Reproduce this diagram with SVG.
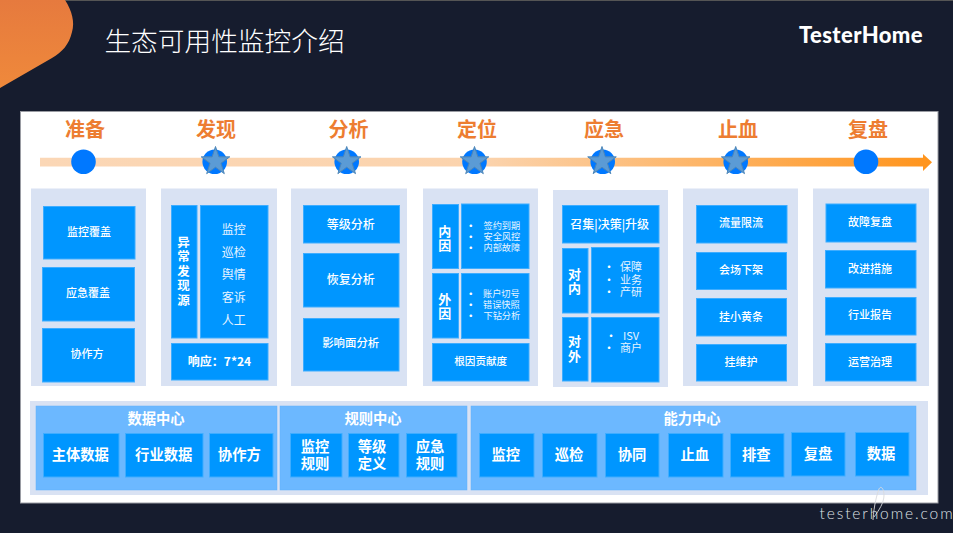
<svg xmlns="http://www.w3.org/2000/svg" width="953" height="533" viewBox="0 0 953 533">
<style>
text{font-family:"Noto Sans CJK SC","Liberation Sans",sans-serif;fill:#fff;text-anchor:middle;dominant-baseline:central}
.b{fill:#0096ff;stroke:#3fadff;stroke-width:1}
.bg{fill:#d9e2f3}
.c{fill:#6cb8ff;stroke:#5fb0fb;stroke-width:.5}
.h{fill:#ed7d31;font-size:20px;font-weight:700}
.t11{font-size:11px;font-weight:500}
.t12{font-size:12px;font-weight:500}
.r12{font-size:12px;fill:#e8f4ff}
.v{font-size:13px;font-weight:700}
.vs{font-size:12.500px;font-weight:700}
.s{font-size:9.200px;text-anchor:start;fill:#e8f4ff}
.d{font-size:10px;font-weight:700}
.m{font-size:11px;fill:#e8f4ff}
.k{font-size:14.300px;font-weight:700}
.dot{fill:#0078ff}
.star{fill:#5b9bd5;stroke:#4d86b8;stroke-width:1}
</style>
<defs>
<linearGradient id="corner" x1="0" y1="0" x2="0" y2="1"><stop offset="0" stop-color="#e67a3e"/><stop offset="1" stop-color="#ef893b"/></linearGradient>
<linearGradient id="line" gradientUnits="userSpaceOnUse" x1="40" y1="0" x2="932" y2="0"><stop offset="0" stop-color="#fbd7b6"/><stop offset=".5" stop-color="#fbd3ad"/><stop offset="1" stop-color="#ff941c"/></linearGradient>
<polygon id="st" points="0,-15 3.37,-4.64 14.27,-4.64 5.45,1.77 8.82,12.14 0,5.73 -8.82,12.14 -5.45,1.77 -14.27,-4.64 -3.37,-4.64"/>
</defs>
<rect width="953" height="533" fill="#161c2e"/>
<rect width="953" height="1" fill="#555"/>
<path id="corner-shape" d="M0 0H65C72 11 75 22 72 32C69 45 62 52 52 58L0 88Z" fill="url(#corner)"/>
<text x="224.500" y="39.500" font-size="26.700" font-weight="300">生态可用性监控介绍</text>
<text x="861" y="34.500" style="font-family:Lato,'Liberation Sans',sans-serif;font-size:22px;font-weight:900;letter-spacing:.4px">TesterHome</text>
<rect x="20.500" y="111.500" width="917.500" height="391.500" fill="#fff" stroke="#9a9ca3" stroke-width="1"/>

<g id="connectors">
<path d="M40 157.700H923V154L932 162.300L923 171V166.400H40Z" fill="url(#line)"/>
</g>

<g id="step-1"><text class="h" x="85" y="128.500">准备</text><circle class="dot" cx="83.500" cy="161.700" r="12.300"/></g>
<g id="step-2"><text class="h" x="216" y="128.500">发现</text><circle class="dot" cx="214.700" cy="161.700" r="12.300"/><use href="#st" class="star" x="215.500" y="161.500"/></g>
<g id="step-3"><text class="h" x="348.500" y="128.500">分析</text><circle class="dot" cx="346.700" cy="161.700" r="12.300"/><use href="#st" class="star" x="346.700" y="161.500"/></g>
<g id="step-4"><text class="h" x="477" y="128.500">定位</text><circle class="dot" cx="474.500" cy="161.700" r="12.300"/><use href="#st" class="star" x="474.500" y="161.500"/></g>
<g id="step-5"><text class="h" x="604" y="128.500">应急</text><circle class="dot" cx="602.700" cy="161.700" r="12.300"/><use href="#st" class="star" x="602" y="161.500"/></g>
<g id="step-6"><text class="h" x="738" y="128.500">止血</text><circle class="dot" cx="735.700" cy="161.700" r="12.300"/><use href="#st" class="star" x="735.700" y="161.500"/></g>
<g id="step-7"><text class="h" x="868" y="128.500">复盘</text><circle class="dot" cx="866" cy="161.700" r="12.300"/></g>

<g id="col-1">
<rect class="bg" x="31" y="188.500" width="115" height="197.500"/>
<rect class="b" x="43.500" y="206.500" width="91.500" height="52.500"/><text class="t11" x="89" y="230.500">监控覆盖</text>
<rect class="b" x="42.500" y="267.500" width="92" height="53.500"/><text class="t11" x="88" y="292">应急覆盖</text>
<rect class="b" x="42.500" y="328.500" width="92" height="53.500"/><text class="t11" x="87" y="352.500">协作方</text>
</g>

<g id="col-2">
<rect class="bg" x="161" y="188.500" width="116" height="197.500"/>
<rect class="b" x="171.500" y="205.500" width="25.500" height="132.500"/>
<text class="vs" x="183.500" y="241"><tspan x="183.500">异</tspan><tspan x="183.500" dy="14.400">常</tspan><tspan x="183.500" dy="14.400">发</tspan><tspan x="183.500" dy="14.400">现</tspan><tspan x="183.500" dy="14.400">源</tspan></text>
<rect class="b" x="200.500" y="205.500" width="67.500" height="132.500"/>
<text class="r12" x="233.700" y="228"><tspan x="233.700">监控</tspan><tspan x="233.700" dy="22.700">巡检</tspan><tspan x="233.700" dy="22.700">舆情</tspan><tspan x="233.700" dy="22.700">客诉</tspan><tspan x="233.700" dy="22.700">人工</tspan></text>
<rect class="b" x="171.500" y="343.500" width="96.500" height="36.500"/><text x="219.500" y="360" font-size="12" font-weight="700">响应：7*24</text>
</g>

<g id="col-3">
<rect class="bg" x="291" y="188.500" width="116" height="197.500"/>
<rect class="b" x="303.500" y="205.500" width="96" height="37.500"/><text class="t12" x="350.700" y="223">等级分析</text>
<rect class="b" x="303.500" y="253.500" width="95.500" height="53.500"/><text class="t12" x="350.700" y="278">恢复分析</text>
<rect class="b" x="303.500" y="318.500" width="95.500" height="52.500"/><text class="t12" x="350.700" y="341.700" style="font-size:11.400px">影响面分析</text>
</g>

<g id="col-4">
<rect class="bg" x="423" y="188.500" width="115" height="197.500"/>
<rect class="b" x="432.500" y="204.500" width="26" height="64"/><text class="v" x="444.700" y="229.500"><tspan x="444.700">内</tspan><tspan x="444.700" dy="14.500">因</tspan></text>
<rect class="b" x="461.500" y="204" width="67.500" height="64.500"/>
<text class="d" x="470.700" y="224.500"><tspan x="470.700">•</tspan><tspan x="470.700" dy="11.200">•</tspan><tspan x="470.700" dy="11.200">•</tspan></text>
<text class="s" x="483.500" y="224.700"><tspan x="483.500">签约到期</tspan><tspan x="483.500" dy="11.200">安全风控</tspan><tspan x="483.500" dy="11.200">内部故障</tspan></text>
<rect class="b" x="432.500" y="273.500" width="26" height="64.500"/><text class="v" x="444.700" y="297.500"><tspan x="444.700">外</tspan><tspan x="444.700" dy="14.500">因</tspan></text>
<rect class="b" x="461.500" y="273.500" width="67.500" height="65"/>
<text class="d" x="470.700" y="293"><tspan x="470.700">•</tspan><tspan x="470.700" dy="11">•</tspan><tspan x="470.700" dy="11">•</tspan></text>
<text class="s" x="483" y="293"><tspan x="483">账户切号</tspan><tspan x="483" dy="11">错误快照</tspan><tspan x="483.500" dy="11">下钻分析</tspan></text>
<rect class="b" x="432.500" y="343.500" width="96.500" height="37.500"/><text x="480.700" y="360.700" font-size="10.600" font-weight="500">根因贡献度</text>
</g>

<g id="col-5">
<rect class="bg" x="553" y="190" width="115" height="197"/>
<rect class="b" x="562.500" y="205.500" width="96.500" height="37.500"/><text class="t12" x="609.700" y="223">召集|决策|升级</text>
<rect class="b" x="562.500" y="248.500" width="25.500" height="64.500"/><text class="v" x="574.500" y="272.500"><tspan x="574.500">对</tspan><tspan x="574.500" dy="14.700">内</tspan></text>
<rect class="b" x="591.500" y="247.500" width="67.500" height="65.500"/>
<text class="d" x="609" y="266"><tspan x="609">•</tspan><tspan x="609" dy="12.500">•</tspan><tspan x="609" dy="12.500">•</tspan></text>
<text class="m" x="631" y="266"><tspan x="631">保障</tspan><tspan x="631" dy="12.500">业务</tspan><tspan x="631" dy="12.500">产研</tspan></text>
<rect class="b" x="562.500" y="317.500" width="25.500" height="63.500"/><text class="v" x="574.500" y="340"><tspan x="574.500">对</tspan><tspan x="574.500" dy="14.700">外</tspan></text>
<rect class="b" x="591.500" y="317.500" width="67.500" height="64.500"/>
<text class="d" x="610" y="335"><tspan x="611">•</tspan><tspan x="609" dy="12">•</tspan></text>
<text class="m" x="631" y="335"><tspan x="631">ISV</tspan><tspan x="631" dy="12">商户</tspan></text>
</g>

<g id="col-6">
<rect class="bg" x="683" y="188.500" width="115" height="197.500"/>
<rect class="b" x="696.500" y="205.500" width="90.500" height="37.500"/><text class="t11" x="741" y="222">流量限流</text>
<rect class="b" x="696.500" y="252.500" width="90" height="37"/><text class="t11" x="741" y="269">会场下架</text>
<rect class="b" x="696.500" y="298.500" width="90" height="37.500"/><text class="t11" x="741" y="315.700">挂小黄条</text>
<rect class="b" x="696.500" y="344.500" width="90" height="36.500"/><text class="t11" x="741" y="361">挂维护</text>
</g>

<g id="col-7">
<rect class="bg" x="813" y="188.500" width="116" height="197.500"/>
<rect class="b" x="826" y="204" width="90" height="38"/><text class="t11" x="870" y="221">故障复盘</text>
<rect class="b" x="825.500" y="250.500" width="90.500" height="37.500"/><text class="t11" x="870" y="267.700">改进措施</text>
<rect class="b" x="825.500" y="297.500" width="90.500" height="37.500"/><text class="t11" x="870" y="314">行业报告</text>
<rect class="b" x="825.500" y="343.500" width="90.500" height="37.500"/><text class="t11" x="870" y="360.700">运营治理</text>
</g>

<rect id="center-bg" class="bg" x="30" y="401" width="898" height="94"/>

<g id="data-center">
<rect class="c" x="36" y="406" width="241" height="84"/><text class="k" x="156" y="417.700">数据中心</text>
<rect class="b" x="43.500" y="433.500" width="75.500" height="43.500"/><text class="k" x="80.300" y="453.700">主体数据</text>
<rect class="b" x="125.500" y="433.500" width="77.500" height="43.500"/><text class="k" x="163.700" y="453.700">行业数据</text>
<rect class="b" x="209.500" y="433.500" width="63.500" height="43.500"/><text class="k" x="239.300" y="453.700">协作方</text>
</g>

<g id="rule-center">
<rect class="c" x="280" y="406" width="187" height="84"/><text class="k" x="373" y="417.700">规则中心</text>
<rect class="b" x="290.500" y="433.500" width="51.500" height="43.500"/><text class="k" x="315" y="444.700"><tspan x="315">监控</tspan><tspan x="315" dy="17.600">规则</tspan></text>
<rect class="b" x="348.500" y="433.500" width="50.500" height="43.500"/><text class="k" x="372" y="444.700"><tspan x="372">等级</tspan><tspan x="372" dy="17.600">定义</tspan></text>
<rect class="b" x="406.500" y="433.500" width="50.500" height="43.500"/><text class="k" x="430" y="444.700"><tspan x="430">应急</tspan><tspan x="430" dy="17.600">规则</tspan></text>
</g>

<g id="capability-center">
<rect class="c" x="471" y="406" width="445" height="84"/><text class="k" x="692" y="417.700">能力中心</text>
<rect class="b" x="479.500" y="433.500" width="54.500" height="43.500"/><text class="k" x="505.700" y="453">监控</text>
<rect class="b" x="542.500" y="433.500" width="54.500" height="43.500"/><text class="k" x="569" y="453">巡检</text>
<rect class="b" x="605.500" y="433.500" width="53.500" height="43.500"/><text class="k" x="632" y="453">协同</text>
<rect class="b" x="668.500" y="433.500" width="54.500" height="43.500"/><text class="k" x="694.700" y="453">止血</text>
<rect class="b" x="730.500" y="433.500" width="53.500" height="43.500"/><text class="k" x="756.300" y="453">排查</text>
<rect class="b" x="791.500" y="432.500" width="53.500" height="43.500"/><text class="k" x="818" y="452.500">复盘</text>
<rect class="b" x="855.500" y="432.500" width="53.500" height="43.500"/><text class="k" x="881" y="452.500">数据</text>
</g>

<g id="watermark">
<path d="M873 520C874 505 877 494 879 489C881 485 884 489 884 495C884 503 879 510 874 517" fill="none" stroke="#d8dadf" stroke-width=".9"/>
<text x="887" y="512.500" style="font-family:Lato,'Liberation Sans',sans-serif;font-size:15.500px;font-weight:300;letter-spacing:1.900px;fill:#dfe1e5">testerhome.com</text>
</g>
</svg>
